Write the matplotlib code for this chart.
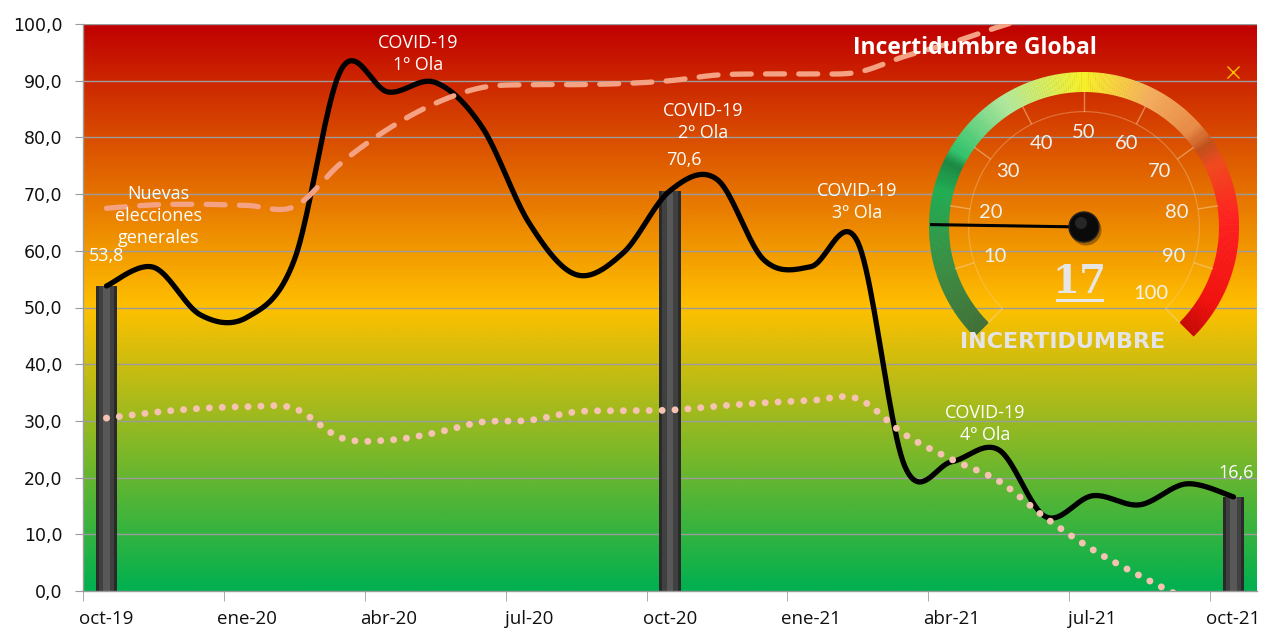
import numpy as np
import matplotlib
matplotlib.use("Agg")
import matplotlib.pyplot as plt
from matplotlib.colors import LinearSegmentedColormap
from matplotlib.patches import Wedge, Circle

# ---------------- data ----------------
months = ["oct-19", "nov-19", "dic-19", "ene-20", "feb-20", "mar-20", "abr-20",
          "may-20", "jun-20", "jul-20", "ago-20", "sep-20", "oct-20", "nov-20",
          "dic-20", "ene-21", "feb-21", "mar-21", "abr-21", "may-21", "jun-21",
          "jul-21", "ago-21", "sep-21", "oct-21"]
tick_labels = ["oct-19", "ene-20", "abr-20", "jul-20", "oct-20",
               "ene-21", "abr-21", "jul-21", "oct-21"]

incertidumbre = [53.8, 57.1, 48.7, 48.3, 58.4, 92.0, 88.0, 89.7, 81.8, 64.9,
                 55.8, 59.6, 70.6, 72.6, 58.4, 57.2, 61.5, 22.0, 22.8, 24.9,
                 13.1, 16.8, 15.2, 18.9, 16.6]
serie_discontinua = [67.5, 68.1, 68.2, 68.0, 67.8, 75.5, 81.5, 86.0, 88.8, 89.3,
                     89.3, 89.5, 90.0, 91.0, 91.2, 91.2, 91.5, 94.3, 96.7, 99.5,
                     102.0, np.nan, np.nan, np.nan, np.nan]
serie_puntos = [30.5, 31.5, 32.2, 32.5, 32.2, 27.0, 26.6, 27.9, 29.8, 30.1,
                31.6, 31.8, 31.9, 32.6, 33.2, 33.6, 33.9, 27.6, 23.2, 19.4,
                12.9, 7.3, 2.7, -1.5, np.nan]

bar_months = ["oct-19", "oct-20", "oct-21"]
bar_values = [53.8, 70.6, 16.6]

gauge_value = 17
gauge_labels = [10, 20, 30, 40, 50, 60, 70, 80, 90, 100]


# ---------------- helpers ----------------
def smooth(xs, ys, n=24):
    xs = np.asarray(xs, float)
    ys = np.asarray(ys, float)
    ok = np.isfinite(ys)
    xs, ys = xs[ok], ys[ok]
    P = np.column_stack([xs, ys])
    out = []
    t = np.linspace(0, 1, n)
    for i in range(len(P) - 1):
        p0 = P[i - 1] if i > 0 else P[i]
        p1, p2 = P[i], P[i + 1]
        p3 = P[i + 2] if i + 2 < len(P) else P[i + 1]
        c1 = p1 + (p2 - p0) / 6.0
        c2 = p2 - (p3 - p1) / 6.0
        seg = ((1 - t) ** 3)[:, None] * p1 + (3 * (1 - t) ** 2 * t)[:, None] * c1 \
            + (3 * (1 - t) * t ** 2)[:, None] * c2 + (t ** 3)[:, None] * p2
        out.append(seg if i == 0 else seg[1:])
    S = np.vstack(out)
    return S[:, 0], S[:, 1]


def fmt(v):
    return f"{v:.1f}".replace(".", ",")


W, H = 1263, 628
fig = plt.figure(figsize=(W / 100, H / 100), dpi=100)
fig.patch.set_facecolor("white")

ax = fig.add_axes([83 / W, 37 / H, (1257 - 83) / W, (591 - 24) / H])
x = np.arange(len(months))

# background gradient
bg = LinearSegmentedColormap.from_list(
    "bg", [(0.0, "#00B050"), (0.5, "#FFC000"), (1.0, "#C00000")])
grad = np.linspace(0, 1, 512).reshape(-1, 1)
ax.imshow(grad, extent=(-0.5, len(months) - 0.5, 0, 100), origin="lower",
          aspect="auto", cmap=bg, zorder=0, interpolation="bilinear")

for v in range(10, 101, 10):
    ax.axhline(v, color="#9c9c9c", lw=1.0, zorder=1)

# bars (cylinders)
bx = [months.index(m) for m in bar_months]
ax.bar(bx, bar_values, width=0.46, color="#2a2a2a", zorder=2)
ax.bar(bx, bar_values, width=0.32, color="#404040", zorder=2)
ax.bar(bx, bar_values, width=0.14, color="#585858", zorder=2)

# black line
sx, sy = smooth(x, incertidumbre)
ax.plot(sx, sy, color="black", lw=3.8, zorder=4, solid_capstyle="round")

# dashed line
dx, dy = smooth(x, serie_discontinua)
ax.plot(dx, dy, color="#F4A283", lw=3.8, zorder=5,
        dashes=(3.6, 2.7), dash_capstyle="round")

# dotted line
px, py = smooth(x, serie_puntos)
ax.plot(px, py, color="#F6C3B3", lw=5.0, zorder=5,
        dashes=(0.01, 1.85), dash_capstyle="round")

ax.set_xlim(-0.5, len(months) - 0.5)
ax.set_ylim(0, 100)

ax.set_yticks(range(0, 101, 10))
ax.set_yticklabels([fmt(v) for v in range(0, 101, 10)],
                   fontsize=12.5, family="DejaVu Sans", color="#101010")
ax.tick_params(axis="y", length=6, color="#9c9c9c", pad=9)

ax.set_xticks([months.index(m) for m in tick_labels])
ax.set_xticklabels(tick_labels, fontsize=13.5, family="Open Sans", color="#101010")
ax.set_xticks(np.arange(-0.5, len(months) - 1, 3), minor=True)
ax.tick_params(axis="x", which="major", length=0, pad=14)
ax.tick_params(axis="x", which="minor", length=7, color="#9c9c9c")

for s in ["top", "right"]:
    ax.spines[s].set_visible(False)
for s in ["left", "bottom"]:
    ax.spines[s].set_color("#9c9c9c")
    ax.spines[s].set_linewidth(1.0)

# annotations
tkw = dict(color="white", fontsize=13, family="Open Sans", ha="center",
           va="center", zorder=6, linespacing=1.3)
ax.text(6.63, 94.7, "COVID-19\n1º Ola", **tkw)
ax.text(12.71, 82.7, "COVID-19\n2º Ola", **tkw)
ax.text(15.99, 68.6, "COVID-19\n3º Ola", **tkw)
ax.text(18.71, 29.5, "COVID-19\n4º Ola", **tkw)
ax.text(1.1, 66.1, "Nuevas\nelecciones\ngenerales", **tkw)
ax.text(0.0, 59.1, fmt(bar_values[0]), **tkw)
ax.text(12.3, 76.0, fmt(bar_values[1]), **tkw)
ax.text(24.05, 20.8, fmt(bar_values[2]), **tkw)

# ---------------- gauge overlay ----------------
g = fig.add_axes([0, 0, 1, 1], zorder=10)
g.set_xlim(0, W)
g.set_ylim(0, H)
g.axis("off")
g.patch.set_alpha(0)

GX, GY = 1084, H - 227
R_OUT, R_IN = 155, 135


def ang(v):
    return 225 - 2.7 * v


gcm = LinearSegmentedColormap.from_list("g", [
    (0.00, "#3f6f3a"), (0.10, "#3a8c44"), (0.22, "#1fae55"), (0.26, "#1a8a45"),
    (0.28, "#30c46e"), (0.38, "#b0eaa0"), (0.50, "#f6f028"), (0.60, "#f4b060"),
    (0.68, "#e88a48"), (0.71, "#c0501c"), (0.74, "#f04a20"), (0.82, "#ff2222"),
    (0.95, "#f01010"), (1.00, "#c80808")])
N = 300
for i in range(N):
    v0 = 100 * i / N
    v1 = 100 * (i + 1) / N
    g.add_patch(Wedge((GX, GY), R_OUT, ang(v1), ang(v0) + 0.15, width=R_OUT - R_IN,
                      facecolor=gcm((v0 + v1) / 200), edgecolor="none", zorder=2))

# inner thin circle and ticks
g.add_patch(Wedge((GX, GY), 116, ang(100), ang(0), width=1.2,
                  facecolor="#f5d2a8", alpha=0.35, edgecolor="none", zorder=2))
for v in range(0, 101, 10):
    a = np.deg2rad(ang(v))
    g.plot([GX + 116 * np.cos(a), GX + R_IN * np.cos(a)],
           [GY + 116 * np.sin(a), GY + R_IN * np.sin(a)],
           color="#f5d2a8", alpha=0.5, lw=1.0, zorder=2)

for v in gauge_labels:
    a = np.deg2rad(ang(v))
    g.text(GX + 94 * np.cos(a), GY + 94 * np.sin(a), str(v), color="#f2f2f2",
           fontsize=14.5, family="Lato", ha="center", va="center", zorder=3)

# needle
a = np.deg2rad(ang(gauge_value))
g.plot([GX, GX + 154 * np.cos(a)], [GY, GY + 154 * np.sin(a)],
       color="black", lw=2.2, zorder=4, solid_capstyle="butt")
g.add_patch(Circle((GX + 2, GY - 3), 15.5, facecolor="#00000055", edgecolor="none", zorder=4))
g.add_patch(Circle((GX, GY), 15, facecolor="#0a0a0a", edgecolor="#222222", zorder=5))
g.add_patch(Circle((GX - 3, GY + 4), 6, facecolor="#3a3a3a", edgecolor="none",
                   alpha=0.6, zorder=6))

g.text(1079, H - 282, str(gauge_value), color="#e6e6e6", fontsize=28,
       family="DejaVu Serif", fontweight="bold", ha="center", va="center", zorder=3)
g.plot([1057, 1102], [H - 300, H - 300], color="#e6e6e6", lw=2.2, zorder=3)
g.text(1063, H - 342, "INCERTIDUMBRE", color="#e4e4e4", fontsize=16,
       family="DejaVu Sans", fontweight="bold", ha="center", va="center", zorder=3)
g.text(975, H - 48, "Incertidumbre Global", color="white", fontsize=16.5,
       family="Open Sans", fontweight="bold", ha="center", va="center", zorder=3)
g.plot([1233], [H - 72], marker="x", color="#FFC000", ms=8, mew=1.0, zorder=3)

fig.savefig("out.png", dpi=100)
